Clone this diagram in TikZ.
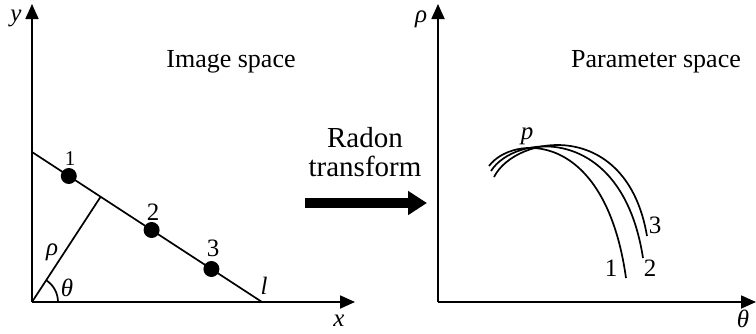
\documentclass[tikz,border=0pt]{standalone}
\usepackage{fontspec}
\setmainfont{Liberation Serif}
\usetikzlibrary{arrows.meta,calc}
\begin{document}
\begin{tikzpicture}[x=1pt,y=-1pt,
  axis/.style={line width=1.8pt,-{Triangle[length=15pt,width=13pt]}},
  ln/.style={line width=1.7pt},
  dot/.style={circle,fill=black,inner sep=0pt,minimum size=16pt},
  lbl/.style={font=\fontsize{25}{28}\selectfont\itshape,inner sep=0pt},
  num/.style={font=\fontsize{25}{28}\selectfont,inner sep=0pt},
  title/.style={font=\fontsize{26}{30}\selectfont,inner sep=0pt,align=center}]
\useasboundingbox (0,0) rectangle (756,333);
% left axes
\coordinate (O1) at (32,302);
\coordinate (Y1) at (32,4);
\coordinate (X1) at (355,302);
\draw[axis] (O1) -- (Y1);
\draw[axis] (O1) -- (X1);
\node[lbl] (ylab) at (16,18) {y};
\node[lbl] (xlab) at (339,321) {x};
% line l
\coordinate (L1) at (32,152);
\coordinate (L2) at (262,302);
\draw[ln] (L1) -- (L2);
\coordinate (F) at ($(L1)!(O1)!(L2)$);
\draw[ln] (O1) -- (F);
\draw[ln] ([xshift=26pt]O1) arc[start angle=0,end angle=57,radius=26pt];
\node[lbl] (rholab) at (52,252) {ρ};
\node[lbl] (thlab) at (67,288) {θ};
\node[lbl] (llab) at (264,286) {l};
\node[dot] (d1) at ($(L1)!0.16!(L2)$) {};
\node[dot] (d2) at ($(L1)!0.52!(L2)$) {};
\node[dot] (d3) at ($(L1)!0.78!(L2)$) {};
\node[num,font=\fontsize{21}{24}\selectfont] (n1) at (70,159) {1};
\node[num] (n2) at (153,212) {2};
\node[num] (n3) at (213,248) {3};
\node[title] (img) at (231,62) {Image space};
% middle
\node[title,font=\fontsize{29}{29}\selectfont] (radon) at (365,152) {Radon\\transform};
\coordinate (A1) at (305,203);
\coordinate (A2) at (427,203);
\draw[line width=10pt,-{Triangle[length=19pt,width=23pt]}] (A1) -- (A2);
% right axes
\coordinate (O2) at (438,302);
\coordinate (Y2) at (438,4);
\coordinate (X2) at (756,302);
\draw[axis] (O2) -- (Y2);
\draw[axis] (O2) -- (X2);
\node[lbl] (rholab2) at (421,19) {ρ};
\node[lbl] (thlab2) at (743,319) {θ};
\node[title] (par) at (656,62) {Parameter space};
% curves
\coordinate (s1) at (489,166);
\coordinate (e1) at (626,278);
\coordinate (s2) at (491,171);
\coordinate (e2) at (643,258);
\coordinate (s3) at (494,177);
\coordinate (e3) at (647,236);
\draw[ln] (s1) .. controls (512,135) and (605,128) .. (e1);
\draw[ln] (s2) .. controls (514,134) and (622,122) .. (e2);
\draw[ln] (s3) .. controls (516,134) and (627,118) .. (e3);
\node[num] (c1) at (611,268) {1};
\node[num] (c2) at (650,268) {2};
\node[num] (c3) at (655,225) {3};
\node[lbl] (plab) at (527,136) {p};
\end{tikzpicture}
\end{document}
